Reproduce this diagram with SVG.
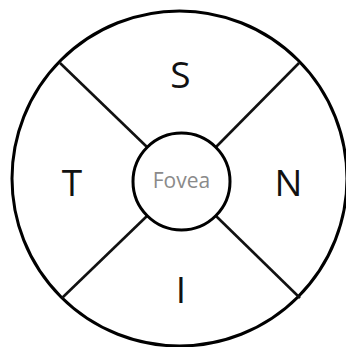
<svg xmlns="http://www.w3.org/2000/svg" width="346" height="347" viewBox="0 0 346 347">
<style>
.ring{fill:none;stroke:#000;stroke-width:3}
.line{stroke:#111;stroke-width:2.6;stroke-linecap:butt}
.lbl{font-family:"Open Sans","Liberation Sans",sans-serif;font-size:37px;fill:#111;text-anchor:middle}
.fov{font-family:"Open Sans","Liberation Sans",sans-serif;font-size:21px;fill:#8a8a8a;text-anchor:middle}
</style>
<rect width="346" height="347" fill="#fff"/>
<g id="outer"><circle class="ring" cx="179.5" cy="178.5" r="167.5"/></g>
<g id="connectors">
<line class="line" x1="60" y1="63" x2="147" y2="147"/>
<line class="line" x1="299" y1="63" x2="216" y2="147"/>
<line class="line" x1="62" y1="298" x2="147" y2="216"/>
<line class="line" x1="216" y1="216" x2="300" y2="298"/>
</g>
<g id="fovea"><circle class="ring" cx="181.5" cy="181.5" r="48.5"/><text class="fov" x="181.5" y="188">Fovea</text></g>
<g id="S"><text class="lbl" x="180.5" y="88">S</text></g>
<g id="I"><text class="lbl" x="181" y="302.5">I</text></g>
<g id="T"><text class="lbl" x="72" y="196">T</text></g>
<g id="N"><text class="lbl" x="288.5" y="196">N</text></g>
</svg>
